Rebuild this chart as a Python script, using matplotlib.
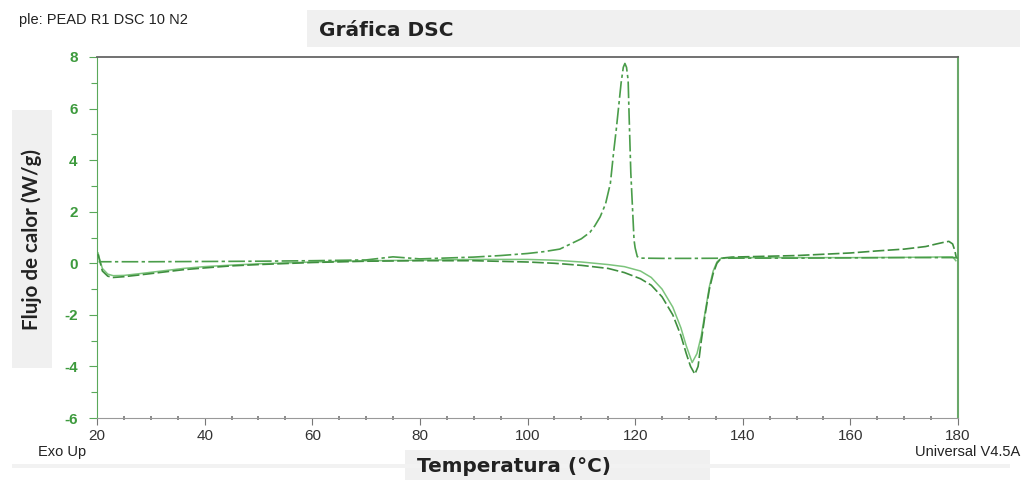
import matplotlib
matplotlib.use("Agg")
import matplotlib.pyplot as plt
from matplotlib.patches import Rectangle

# ---------------- data ----------------
cool_T = [180, 179.5, 170, 160, 150, 140, 130, 125, 121, 120.4, 120.0, 119.8, 119.5, 119.2, 118.9,
          118.7, 118.4, 118.1, 117.8, 117.4, 116.9, 116.5, 116.0, 115.4, 114.5, 113.5, 112.5, 111.6,
          110, 108, 106, 103, 100, 95, 90, 80, 75, 70, 60, 50, 40, 30, 22, 20.3]
cool_Y = [0.2, 0.22, 0.22, 0.21, 0.2, 0.2, 0.19, 0.19, 0.2, 0.26, 0.6, 0.9, 2.2, 3.5, 5.6,
          7.1, 7.6, 7.75, 7.6, 7.0, 6.0, 5.2, 4.3, 3.1, 2.3, 1.8, 1.45, 1.2,
          0.95, 0.75, 0.55, 0.45, 0.38, 0.3, 0.24, 0.17, 0.25, 0.13, 0.1, 0.08, 0.07, 0.06, 0.06, 0.06]

heat1_T = [20.2, 20.5, 21, 22, 23, 25, 28, 32, 36, 40, 45, 50, 60, 70, 80, 90, 100, 105, 110, 115,
           118, 121, 123, 125, 127, 128.5, 129.5, 130.3, 131.1, 131.7, 132.3, 133, 133.8, 134.5,
           135.2, 136, 138, 140, 150, 160, 165, 170, 174, 176, 177.5, 178.3, 179, 179.4, 179.7]
heat1_Y = [0.35, 0.1, -0.3, -0.5, -0.55, -0.52, -0.45, -0.35, -0.25, -0.18, -0.1, -0.05, 0.03,
           0.08, 0.1, 0.1, 0.05, 0.0, -0.08, -0.2, -0.36, -0.6, -0.85, -1.3, -2.0, -2.8, -3.5,
           -4.0, -4.3, -4.0, -3.0, -2.0, -1.0, -0.4, 0.0, 0.2, 0.24, 0.25, 0.3, 0.4, 0.48, 0.55,
           0.65, 0.75, 0.82, 0.85, 0.75, 0.5, 0.2]

heat2_T = [20.2, 20.5, 21, 22, 23, 25, 28, 32, 36, 40, 45, 50, 60, 70, 80, 90, 100, 105, 110, 115,
           118, 121, 123, 125, 127, 128.5, 129.5, 130.6, 131.5, 132.3, 133, 133.8, 134.5, 135.2,
           136, 138, 140, 150, 160, 170, 175, 178, 179, 179.6]
heat2_Y = [0.4, 0.15, -0.2, -0.42, -0.48, -0.47, -0.4, -0.3, -0.2, -0.13, -0.07, -0.02, 0.05,
           0.1, 0.12, 0.15, 0.15, 0.12, 0.05, -0.05, -0.13, -0.3, -0.55, -1.0, -1.7, -2.5, -3.2,
           -3.85, -3.5, -2.8, -1.9, -0.9, -0.3, 0.05, 0.2, 0.22, 0.22, 0.22, 0.22, 0.23, 0.24,
           0.25, 0.25, 0.1]

x_ticks = [20, 40, 60, 80, 100, 120, 140, 160, 180]
y_ticks = [-6, -4, -2, 0, 2, 4, 6, 8]

# ---------------- figure ----------------
plt.rcParams['font.family'] = ['Liberation Sans', 'DejaVu Sans']
plt.rcParams['axes.unicode_minus'] = False
W, H = 1023, 480
fig = plt.figure(figsize=(W / 100, H / 100), dpi=100)

def fx(px):
    return px / W

def fy(py):
    return 1 - py / H

# background boxes
fig.patches.append(Rectangle((fx(307), fy(47)), fx(1020) - fx(307), fy(10) - fy(47),
                             transform=fig.transFigure, facecolor='#f0f0f0', edgecolor='none', zorder=0))
fig.patches.append(Rectangle((fx(12), fy(368)), fx(52) - fx(12), fy(110) - fy(368),
                             transform=fig.transFigure, facecolor='#f0f0f0', edgecolor='none', zorder=0))
fig.patches.append(Rectangle((fx(405), fy(480)), fx(710) - fx(405), fy(450) - fy(480),
                             transform=fig.transFigure, facecolor='#f0f0f0', edgecolor='none', zorder=0))
fig.patches.append(Rectangle((fx(12), fy(468)), fx(1010) - fx(12), fy(464) - fy(468),
                             transform=fig.transFigure, facecolor='#f2f2f2', edgecolor='none', zorder=0))

ax = fig.add_axes([fx(97), fy(418), fx(958) - fx(97), fy(57) - fy(418)])
ax.set_facecolor('none')

ax.plot(heat2_T, heat2_Y, color='#7cc47c', lw=1.1, zorder=2)
ax.plot(heat1_T, heat1_Y, color='#3f8f3f', lw=1.2, ls=(0, (7, 2)), zorder=3)
ax.plot(cool_T, cool_Y, color='#4a9d4a', lw=1.2, ls=(0, (10, 2, 2, 2)), zorder=3)

ax.set_xlim(20, 180)
ax.set_ylim(-6, 8)
ax.set_xticks(x_ticks)
ax.set_yticks(y_ticks)
ax.set_xticks(range(25, 180, 5), minor=True)
ax.set_yticks(range(-5, 8, 2), minor=True)

ax.tick_params(axis='y', which='major', direction='out', length=6, width=0.8, color='#5aa85a',
               labelcolor='#3d9a3d', labelsize=11, pad=8)
ax.tick_params(axis='y', which='minor', direction='out', length=4, width=0.8, color='#5aa85a')
ax.tick_params(axis='x', which='major', direction='out', length=5, width=0.8, color='#777777',
               labelcolor='#333333', labelsize=11, pad=3)
ax.tick_params(axis='x', which='minor', direction='inout', length=3, width=1.2, color='#777777')
for lab in ax.get_yticklabels():
    lab.set_fontweight('bold')

ax.spines['left'].set_color('#5aa85a')
ax.spines['right'].set_color('#6aa86a')
ax.spines['right'].set_linewidth(1.5)
ax.spines['top'].set_color('#666666')
ax.spines['top'].set_linewidth(1.3)
ax.spines['bottom'].set_color('#999999')

# texts
fig.text(fx(188), fy(20), 'ple: PEAD R1 DSC 10 N2', ha='right', va='center',
         fontsize=10.5, color='#222222')
fig.text(fx(319), fy(30), 'Gráfica DSC', ha='left', va='center', fontsize=14.5,
         fontweight='bold', color='#222222', family=['DejaVu Sans'])
fig.text(fx(32), fy(240), 'Flujo de calor (W/g)', ha='center', va='center', rotation=90,
         fontsize=14.8, fontweight='bold', color='#222222', family=['Lato', 'DejaVu Sans'])
fig.text(fx(417), fy(466), 'Temperatura (°C)', ha='left', va='center', fontsize=14.4,
         fontweight='bold', color='#222222', family=['DejaVu Sans'])
fig.text(fx(38), fy(452), 'Exo Up', ha='left', va='center', fontsize=10.5, color='#222222')
fig.text(fx(1020), fy(452), 'Universal V4.5A', ha='right', va='center', fontsize=10.5, color='#222222')

fig.savefig('out.png', dpi=100, facecolor='white')
